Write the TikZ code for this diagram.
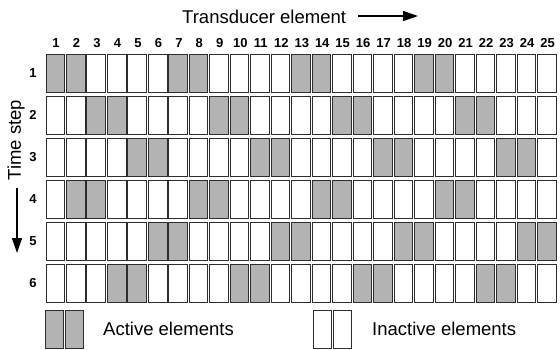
\documentclass[tikz,border=0pt]{standalone}
\usepackage{fontspec}
\setmainfont{Liberation Sans}
\usetikzlibrary{arrows.meta}
\definecolor{activegray}{RGB}{179,179,179}
\definecolor{edgeink}{RGB}{45,45,45}

\begin{document}
\begin{tikzpicture}[x=1pt, y=1pt,
    cell/.style={rectangle, draw=edgeink, line width=0.9pt,
                 minimum width=18.6pt, minimum height=38.2pt,
                 inner sep=0pt, anchor=north west},
    oncell/.style={cell, fill=activegray},
    offcell/.style={cell, fill=white},
    indexnum/.style={font=\fontsize{13}{13}\selectfont\bfseries, inner sep=0pt},
    caption/.style={font=\fontsize{18.5}{18.5}\selectfont, inner sep=0pt},
    pointer/.style={-{Triangle[length=15pt, width=10pt]}, line width=1.4pt},
]
\useasboundingbox (0,0) rectangle (560,-349);

% ─── Axis titles ─────────────────────────────────────────────────
\node[caption, anchor=west] (xtitle) at (182,-17) {Transducer element};
\coordinate (xtail) at (358,-16);
\coordinate (xhead) at (418,-16);
\draw[pointer] (xtail) -- (xhead);

\node[caption, rotate=90] (ytitle) at (16,-140) {Time step};
\coordinate (ytail) at (17,-188);
\coordinate (yhead) at (17,-253);
\draw[pointer] (ytail) -- (yhead);

% ─── Element and step numbers ────────────────────────────────────
\foreach \c in {1,...,25}
  \node[indexnum] (n\c) at ({56+20.48*(\c-1)}, -43) {\c};
\foreach \r in {1,...,6}
  \node[indexnum] (t\r) at (33, {-72.6-42*(\r-1)}) {\r};

% ─── Firing pattern (pairs every 6 elements) ─────────────────────
\foreach \r/\s in {1/1,2/3,3/5,4/2,5/6,6/4} {
  \foreach \c in {1,...,25} {
    \pgfmathtruncatemacro\on{(\c>=\s) && (\c<=\s+19) && (mod(\c-\s+12,6)<2)}
    \ifnum\on=1 \def\kind{oncell}\else\def\kind{offcell}\fi
    \node[\kind] (c\r-\c) at ({45.5+20.48*(\c-1)}, {-53.8-42*(\r-1)}) {};
  }
}

% ─── Legend ──────────────────────────────────────────────────────
\node[oncell] (on1) at (44.5,-309.5) {};
\node[oncell] (on2) at (64.5,-309.5) {};
\node[caption, anchor=west] (ontext) at (103,-328.5) {Active elements};

\node[offcell] (off1) at (312.5,-309.5) {};
\node[offcell] (off2) at (332.5,-309.5) {};
\node[caption, anchor=west] (offtext) at (372,-328.5) {Inactive elements};

\end{tikzpicture}
\end{document}
